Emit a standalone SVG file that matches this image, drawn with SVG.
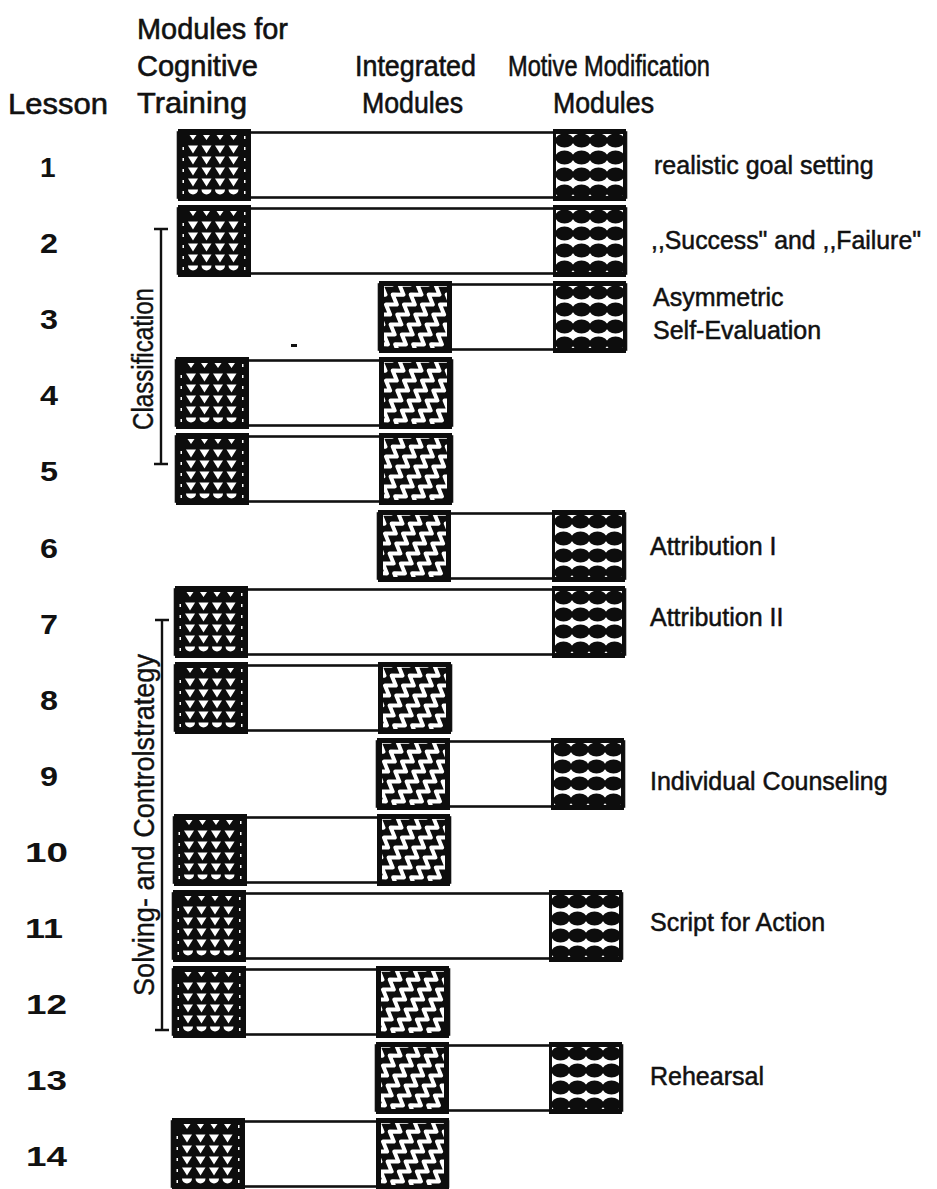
<svg xmlns="http://www.w3.org/2000/svg" xmlns:xlink="http://www.w3.org/1999/xlink" width="937" height="1189" viewBox="0 0 937 1189">
<style>
.hd{font-family:"Liberation Sans",Arial,sans-serif;font-size:30px;fill:#111;stroke:#111;stroke-width:0.6}
.lb{font-family:"Liberation Sans",Arial,sans-serif;font-size:25px;fill:#111;stroke:#111;stroke-width:0.5}
.num{font-family:"Liberation Sans",Arial,sans-serif;font-size:28px;font-weight:bold;fill:#111}
.vt{font-family:"Liberation Sans",Arial,sans-serif;font-size:29px;fill:#111;stroke:#111;stroke-width:0.4}
.bar{fill:#fff;stroke:#111;stroke-width:2.6}
.br{stroke:#111;stroke-width:2.4;fill:none}
</style>
<defs>
<path id="zz" d="M-4.5,-60 L4.5,-54 L-4.5,-48 L4.5,-42 L-4.5,-36 L4.5,-30 L-4.5,-24 L4.5,-18 L-4.5,-12 L4.5,-6 L-4.5,0 L4.5,6 L-4.5,12 L4.5,18 L-4.5,24 L4.5,30 L-4.5,36 L4.5,42 L-4.5,48 L4.5,54 L-4.5,60" fill="none" stroke="#fff" stroke-width="4" stroke-linejoin="round"/>
<clipPath id="zclip"><rect x="5" y="5" width="63" height="62"/></clipPath>
<symbol id="tri" viewBox="0 0 73 72" width="73" height="72">
<rect width="73" height="72" fill="#0d0d0d"/>
<path fill="#fff" d="M11.5,6h7l-3.5,5z M25,6h7l-3.5,5z M38.5,6h7l-3.5,5z M52,6h7l-3.5,5z
M10,16.5h10l-5,8z M23.5,16.5h10l-5,8z M37,16.5h10l-5,8z M50.5,16.5h10l-5,8z
M10,27.5h10l-5,8z M23.5,27.5h10l-5,8z M37,27.5h10l-5,8z M50.5,27.5h10l-5,8z
M10,38.5h10l-5,8z M23.5,38.5h10l-5,8z M37,38.5h10l-5,8z M50.5,38.5h10l-5,8z
M10,49.5h10l-5,8z M23.5,49.5h10l-5,8z M37,49.5h10l-5,8z M50.5,49.5h10l-5,8z
M10,60.5h10a5,5 0 0 1 -10,0z M23.5,60.5h10a5,5 0 0 1 -10,0z M37,60.5h10a5,5 0 0 1 -10,0z M50.5,60.5h10a5,5 0 0 1 -10,0z
M4.5,18h1.5v3h-1.5z M4.5,29h1.5v3h-1.5z M4.5,40h1.5v3h-1.5z M4.5,51h1.5v3h-1.5z M4.5,62h1.5v3h-1.5z
M66,7h1.5v3h-1.5z M66,18h1.5v3h-1.5z M66,29h1.5v3h-1.5z M66,40h1.5v3h-1.5z M66,51h1.5v3h-1.5z M66,62h1.5v3h-1.5z"/>
</symbol>
<symbol id="zig" viewBox="0 0 73 72" width="73" height="72">
<rect width="73" height="72" fill="#0d0d0d"/>
<g clip-path="url(#zclip)">
<use xlink:href="#zz" transform="translate(-14,36) rotate(34)"/>
<use xlink:href="#zz" transform="translate(4,36) rotate(34)"/>
<use xlink:href="#zz" transform="translate(22,36) rotate(34)"/>
<use xlink:href="#zz" transform="translate(40,36) rotate(34)"/>
<use xlink:href="#zz" transform="translate(58,36) rotate(34)"/>
<use xlink:href="#zz" transform="translate(76,36) rotate(34)"/>
</g>
</symbol>
<symbol id="circ" viewBox="0 0 73 72" width="73" height="72">
<rect width="73" height="72" fill="#0d0d0d"/>
<rect x="3" y="4" width="67" height="64" fill="#fff"/>
<g fill="#0d0d0d">
<ellipse cx="11.5" cy="11.5" rx="9.3" ry="6.9"/><ellipse cx="28.5" cy="11.5" rx="9.3" ry="6.9"/><ellipse cx="45.5" cy="11.5" rx="9.3" ry="6.9"/><ellipse cx="62.5" cy="11.5" rx="9.3" ry="6.9"/>
<ellipse cx="11.5" cy="28.5" rx="9.3" ry="6.9"/><ellipse cx="28.5" cy="28.5" rx="9.3" ry="6.9"/><ellipse cx="45.5" cy="28.5" rx="9.3" ry="6.9"/><ellipse cx="62.5" cy="28.5" rx="9.3" ry="6.9"/>
<ellipse cx="11.5" cy="45.5" rx="9.3" ry="6.9"/><ellipse cx="28.5" cy="45.5" rx="9.3" ry="6.9"/><ellipse cx="45.5" cy="45.5" rx="9.3" ry="6.9"/><ellipse cx="62.5" cy="45.5" rx="9.3" ry="6.9"/>
<ellipse cx="11.5" cy="62.5" rx="9.3" ry="6.9"/><ellipse cx="28.5" cy="62.5" rx="9.3" ry="6.9"/><ellipse cx="45.5" cy="62.5" rx="9.3" ry="6.9"/><ellipse cx="62.5" cy="62.5" rx="9.3" ry="6.9"/>
</g>
<rect x="0" y="0" width="73" height="5" fill="#0d0d0d"/>
<rect x="0" y="67" width="73" height="5" fill="#0d0d0d"/>
</symbol>
</defs>
<rect width="937" height="1189" fill="#fff"/>

<g id="headers">
<text class="hd" x="8" y="114" textLength="100" lengthAdjust="spacingAndGlyphs">Lesson</text>
<text class="hd" x="137" y="39" textLength="151" lengthAdjust="spacingAndGlyphs">Modules for</text>
<text class="hd" x="137" y="76" textLength="121" lengthAdjust="spacingAndGlyphs">Cognitive</text>
<text class="hd" x="137" y="113" textLength="110" lengthAdjust="spacingAndGlyphs">Training</text>
<text class="hd" x="355" y="76" textLength="121" lengthAdjust="spacingAndGlyphs">Integrated</text>
<text class="hd" x="362" y="113" textLength="101" lengthAdjust="spacingAndGlyphs">Modules</text>
<text class="hd" x="508" y="76" textLength="202" lengthAdjust="spacingAndGlyphs">Motive Modification</text>
<text class="hd" x="553" y="113" textLength="101" lengthAdjust="spacingAndGlyphs">Modules</text>
</g>

<g id="connectors">
<g id="bracket-classification">
<path class="br" d="M161,229 V464 M154,229 H168 M154,464 H168"/>
<text class="vt" transform="translate(153,359) rotate(-90)" text-anchor="middle" textLength="142" lengthAdjust="spacingAndGlyphs">Classification</text>
</g>
<g id="bracket-solving">
<path class="br" d="M162,620 V1030 M155,620 H169 M155,1030 H169"/>
<text class="vt" transform="translate(154,825) rotate(-90)" text-anchor="middle" textLength="342" lengthAdjust="spacingAndGlyphs">Solving- and Controlstrategy</text>
</g>
</g>

<g id="lesson-1">
<text class="num" x="40" y="177">1</text>
<rect class="bar" x="178" y="132.5" width="448" height="65"/>
<use xlink:href="#tri" x="178" y="129"/><use xlink:href="#circ" x="553" y="129"/>
<text class="lb" x="654" y="174">realistic goal setting</text>
</g>
<g id="lesson-2">
<text class="num" x="40" y="253" textLength="18" lengthAdjust="spacingAndGlyphs">2</text>
<rect class="bar" x="178" y="208.5" width="448" height="65"/>
<use xlink:href="#tri" x="178" y="205"/><use xlink:href="#circ" x="553" y="205"/>
<text class="lb" x="651" y="249" textLength="270" lengthAdjust="spacingAndGlyphs">,,Success" and ,,Failure"</text>
</g>
<g id="lesson-3">
<text class="num" x="40" y="329" textLength="18" lengthAdjust="spacingAndGlyphs">3</text>
<rect class="bar" x="379" y="284.5" width="247" height="65"/>
<use xlink:href="#zig" x="379" y="281"/><use xlink:href="#circ" x="553" y="281"/>
<rect x="291" y="344" width="6" height="3" fill="#111"/>
<text class="lb" x="653" y="306">Asymmetric</text>
<text class="lb" x="653" y="339">Self-Evaluation</text>
</g>
<g id="lesson-4">
<text class="num" x="40" y="405" textLength="18" lengthAdjust="spacingAndGlyphs">4</text>
<rect class="bar" x="176" y="360.5" width="276" height="65"/>
<use xlink:href="#tri" x="176" y="357"/><use xlink:href="#zig" x="379" y="357"/>
</g>
<g id="lesson-5">
<text class="num" x="40" y="481" textLength="18" lengthAdjust="spacingAndGlyphs">5</text>
<rect class="bar" x="176" y="436.5" width="276" height="65"/>
<use xlink:href="#tri" x="176" y="433"/><use xlink:href="#zig" x="379" y="433"/>
</g>
<g id="lesson-6">
<text class="num" x="40" y="558" textLength="18" lengthAdjust="spacingAndGlyphs">6</text>
<rect class="bar" x="378" y="513.5" width="247" height="65"/>
<use xlink:href="#zig" x="378" y="510"/><use xlink:href="#circ" x="552" y="510"/>
<text class="lb" x="650" y="555">Attribution I</text>
</g>
<g id="lesson-7">
<text class="num" x="40" y="634" textLength="18" lengthAdjust="spacingAndGlyphs">7</text>
<rect class="bar" x="175" y="589.5" width="450" height="65"/>
<use xlink:href="#tri" x="175" y="586"/><use xlink:href="#circ" x="552" y="586"/>
<text class="lb" x="650" y="626">Attribution II</text>
</g>
<g id="lesson-8">
<text class="num" x="40" y="710" textLength="18" lengthAdjust="spacingAndGlyphs">8</text>
<rect class="bar" x="175" y="665.5" width="276" height="65"/>
<use xlink:href="#tri" x="175" y="662"/><use xlink:href="#zig" x="378" y="662"/>
</g>
<g id="lesson-9">
<text class="num" x="40" y="786" textLength="18" lengthAdjust="spacingAndGlyphs">9</text>
<rect class="bar" x="377" y="741.5" width="247" height="65"/>
<use xlink:href="#zig" x="377" y="738"/><use xlink:href="#circ" x="551" y="738"/>
<text class="lb" x="650" y="790">Individual Counseling</text>
</g>
<g id="lesson-10">
<text class="num" x="25" y="862" textLength="43" lengthAdjust="spacingAndGlyphs">10</text>
<rect class="bar" x="174" y="817.5" width="276" height="65"/>
<use xlink:href="#tri" x="174" y="814"/><use xlink:href="#zig" x="377" y="814"/>
</g>
<g id="lesson-11">
<text class="num" x="25" y="938" textLength="38" lengthAdjust="spacingAndGlyphs">11</text>
<rect class="bar" x="173" y="893.5" width="449" height="65"/>
<use xlink:href="#tri" x="173" y="890"/><use xlink:href="#circ" x="549" y="890"/>
<text class="lb" x="650" y="931">Script for Action</text>
</g>
<g id="lesson-12">
<text class="num" x="26" y="1014" textLength="41" lengthAdjust="spacingAndGlyphs">12</text>
<rect class="bar" x="173" y="969.5" width="276" height="65"/>
<use xlink:href="#tri" x="173" y="966"/><use xlink:href="#zig" x="376" y="966"/>
</g>
<g id="lesson-13">
<text class="num" x="26" y="1090" textLength="41" lengthAdjust="spacingAndGlyphs">13</text>
<rect class="bar" x="376" y="1045.5" width="246" height="65"/>
<use xlink:href="#zig" x="376" y="1042"/><use xlink:href="#circ" x="549" y="1042"/>
<text class="lb" x="650" y="1085">Rehearsal</text>
</g>
<g id="lesson-14">
<text class="num" x="26" y="1166" textLength="41" lengthAdjust="spacingAndGlyphs">14</text>
<rect class="bar" x="172" y="1121.5" width="276" height="65"/>
<use xlink:href="#tri" x="172" y="1118"/><use xlink:href="#zig" x="376" y="1118"/>
</g>
</svg>
